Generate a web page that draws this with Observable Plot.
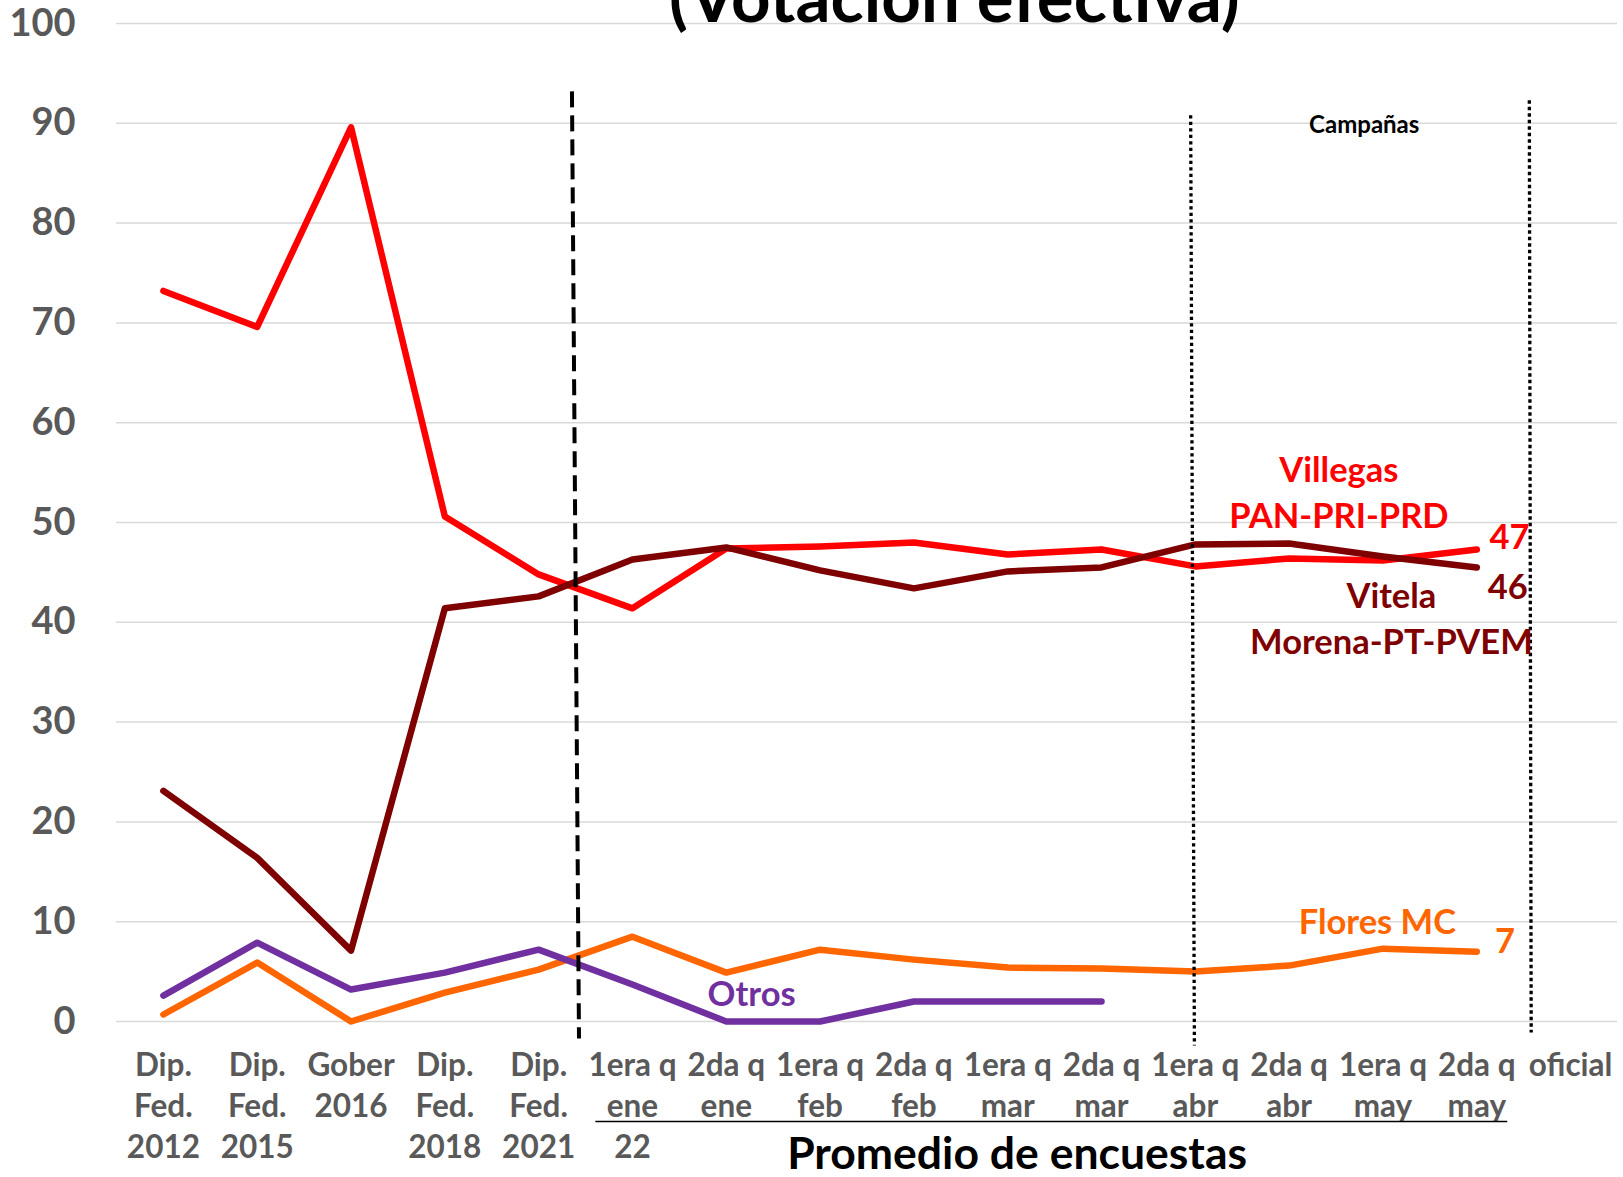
<!DOCTYPE html>
<html><head><meta charset="utf-8">
<script src="https://cdn.jsdelivr.net/npm/d3@7"></script>
<script src="https://cdn.jsdelivr.net/npm/@observablehq/plot@0.6"></script>
<style>
body{margin:0;background:#fff;overflow:hidden}
#chart{position:absolute;left:0;top:0}
</style>
</head><body><div id="chart"></div>
<script>
const title = "(Votación efectiva)";
const categories = [
  "Dip.\nFed.\n2012", "Dip.\nFed.\n2015", "Gober\n2016", "Dip.\nFed.\n2018", "Dip.\nFed.\n2021",
  "1era q\nene\n22", "2da q\nene", "1era q\nfeb", "2da q\nfeb", "1era q\nmar", "2da q\nmar",
  "1era q\nabr", "2da q\nabr", "1era q\nmay", "2da q\nmay", "oficial"
];
const villegas = [73.2, 69.6, 89.6, 50.6, 44.8, 41.4, 47.4, 47.6, 48.0, 46.8, 47.3, 45.6, 46.4, 46.2, 47.3, null];
const vitela   = [23.1, 16.4, 7.1, 41.4, 42.6, 46.3, 47.5, 45.2, 43.4, 45.1, 45.5, 47.8, 47.9, 46.6, 45.5, null];
const flores   = [0.7, 5.9, 0.0, 2.9, 5.2, 8.5, 4.9, 7.2, 6.2, 5.4, 5.3, 5.0, 5.6, 7.3, 7.0, null];
const otros    = [2.6, 7.9, 3.2, 4.9, 7.2, 3.7, 0.0, 0.0, 2.0, 2.0, 2.0, null, null, null, null, null];
const yTicks = [0, 10, 20, 30, 40, 50, 60, 70, 80, 90, 100];

const colors = {villegas: "#FF0000", vitela: "#7F0000", flores: "#FF6600", otros: "#7030A0"};

// annotation positions in data space (x = category index, y = value)
const seriesLabels = [
  {x: 12.53, y: 55.2, text: "Villegas", color: colors.villegas},
  {x: 12.53, y: 50.6, text: "PAN-PRI-PRD", color: colors.villegas},
  {x: 14.35, y: 48.5, text: "47", color: colors.villegas},
  {x: 13.09, y: 42.5, text: "Vitela", color: colors.vitela},
  {x: 13.09, y: 37.9, text: "Morena-PT-PVEM", color: colors.vitela},
  {x: 14.33, y: 43.4, text: "46", color: colors.vitela},
  {x: 12.94, y: 9.85, text: "Flores MC", color: colors.flores},
  {x: 14.30, y: 8.0, text: "7", color: colors.flores},
  {x: 6.27, y: 2.7, text: "Otros", color: colors.otros}
];
const dashedLine = [{x1: 4.355, y1: 93.2, x2: 4.43, y2: -1.7}];
const dottedLines = [
  {x1: 10.95, y1: 90.8, x2: 10.99, y2: -2.4},
  {x1: 14.56, y1: 92.3, x2: 14.58, y2: -1.1}
];

const idx = (_, i) => i;
const val = d => d;
const font = "Lato, 'Open Sans', sans-serif";

const chart = Plot.plot({
  width: 1623,
  height: 1177,
  marginLeft: 116,
  marginRight: 6,
  marginTop: 23,
  marginBottom: 156,
  style: {fontFamily: font, background: "#fff", overflow: "visible"},
  x: {type: "linear", domain: [-0.5, 15.5], axis: null},
  y: {type: "linear", domain: [0, 100], axis: null},
  marks: [
    Plot.ruleY(yTicks, {stroke: "#D9D9D9", strokeWidth: 1.5}),
    Plot.text(yTicks, {x: -0.5, y: val, dx: -41, textAnchor: "end", fontSize: 38, fontWeight: "bold", fill: "#595959"}),
    Plot.text(categories, {x: idx, y: 0, text: val, dy: 25, lineAnchor: "top", lineHeight: 1.31, fontSize: 31.5, fontWeight: "bold", fill: "#595959"}),
    Plot.ruleY([0], {x1: 4.61, x2: 14.33, dy: 100, stroke: "#000", strokeWidth: 1.5}),
    Plot.text(["Promedio de encuestas"], {x: 9.1, y: 0, dy: 133, fontSize: 44.5, fontWeight: "bold", fill: "#000"}),
    Plot.text([title], {x: 8.43, y: 100, dy: -2, lineAnchor: "bottom", fontSize: 69, fontWeight: "bold", fill: "#000"}),
    Plot.text(["Campañas"], {x: 12.8, y: 89.8, fontSize: 24, fontWeight: "bold", fill: "#000"}),
    Plot.line(villegas, {x: idx, y: val, stroke: colors.villegas, strokeWidth: 6.5}),
    Plot.line(vitela, {x: idx, y: val, stroke: colors.vitela, strokeWidth: 6.5}),
    Plot.line(flores, {x: idx, y: val, stroke: colors.flores, strokeWidth: 6.5}),
    Plot.line(otros, {x: idx, y: val, stroke: colors.otros, strokeWidth: 6.5}),
    Plot.link(dashedLine, {x1: "x1", y1: "y1", x2: "x2", y2: "y2", stroke: "#000", strokeWidth: 4, strokeDasharray: "16,8", strokeLinecap: "butt"}),
    Plot.link(dottedLines, {x1: "x1", y1: "y1", x2: "x2", y2: "y2", stroke: "#000", strokeWidth: 3.3, strokeDasharray: "3.3,3.2", strokeLinecap: "butt"}),
    Plot.text(seriesLabels, {x: "x", y: "y", text: "text", fill: "color", fontSize: 34.5, fontWeight: "bold"})
  ]
});
document.getElementById("chart").appendChild(chart);
</script>
</body></html>
